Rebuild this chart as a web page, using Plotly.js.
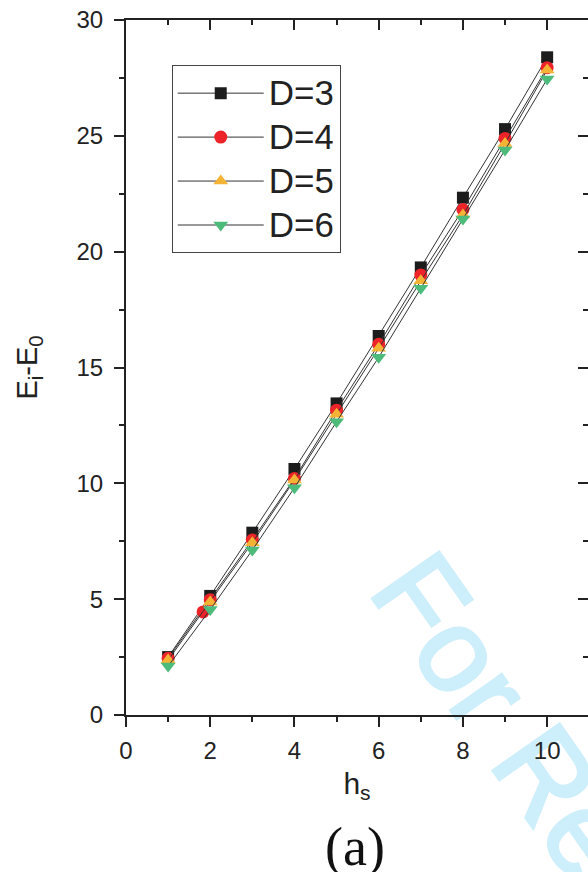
<!DOCTYPE html>
<html>
<head>
<meta charset="utf-8">
<script src="https://cdn.plot.ly/plotly-3.0.1.min.js"></script>
<style>
html,body{margin:0;padding:0;background:#fff;}
#chart{width:588px;height:872px;}
</style>
</head>
<body>
<div id="chart"></div>
<script>
// ---- data ----
const hs = [1, 2, 3, 4, 5, 6, 7, 8, 9, 10];
const seriesNames = ['D=3', 'D=4', 'D=5', 'D=6'];
const yD3 = [2.50, 5.14, 7.87, 10.62, 13.45, 16.36, 19.32, 22.33, 25.29, 28.39];
const yD4 = [2.45, 4.98, 7.55, 10.21, 13.16, 16.00, 18.99, 21.82, 24.89, 27.94];
const yD5 = [2.37, 4.88, 7.44, 10.14, 12.98, 15.83, 18.74, 21.58, 24.67, 27.84];
const yD6 = [2.11, 4.55, 7.12, 9.81, 12.66, 15.44, 18.42, 21.41, 24.39, 27.45];
const extraD4x = [1.83];
const extraD4y = [4.45];
const xTickVals = [0, 2, 4, 6, 8, 10];
const yTickVals = [0, 5, 10, 15, 20, 25, 30];

const colors = ['#1c1c1c', '#ec2329', '#f5b335', '#4dbb7a'];
const symbols = ['square', 'circle', 'triangle-up', 'triangle-down'];
const sizes = [12, 13, 13, 13];
const ys = [yD3, yD4, yD5, yD6];

const traces = [];
ys.forEach((y, i) => {
  traces.push({
    x: hs, y: y, name: seriesNames[i], type: 'scatter', mode: 'lines+markers',
    line: {color: '#333333', width: 1},
    marker: {color: colors[i], symbol: symbols[i], size: sizes[i], line: {width: 0}},
    cliponaxis: false
  });
  if (i === 1) {
    traces.push({
      x: extraD4x, y: extraD4y, type: 'scatter', mode: 'markers', showlegend: false,
      marker: {color: colors[1], symbol: 'circle', size: 13, line: {width: 0}}
    });
  }
});
traces.push({x: [], y: [], xaxis: 'x2', yaxis: 'y2', type: 'scatter', showlegend: false, hoverinfo: 'skip'});

const axisColor = '#222222';
const tickFont = {family: 'Liberation Sans, Arial, sans-serif', size: 24, color: '#222222'};

const layout = {
  width: 588, height: 872,
  margin: {l: 126, r: 0, t: 20, b: 157, pad: 0},
  paper_bgcolor: '#ffffff', plot_bgcolor: '#ffffff',
  showlegend: true,
  legend: {
    x: 0.099, y: 0.935, xanchor: 'left', yanchor: 'top',
    bgcolor: '#ffffff', bordercolor: '#444444', borderwidth: 1,
    font: {family: 'Liberation Sans, Arial, sans-serif', size: 31.5, color: '#222222'},
    itemwidth: 86, tracegroupgap: 0
  },
  xaxis: {
    range: [0, 10.97], tickvals: xTickVals, ticks: 'outside', ticklen: 10, tickwidth: 2,
    tickcolor: axisColor, showline: true, linecolor: axisColor, linewidth: 2,
    showgrid: false, zeroline: false, tickfont: tickFont, ticklabelstandoff: 3,
    minor: {dtick: 1, tick0: 0, ticks: 'outside', ticklen: 5, tickwidth: 2, tickcolor: axisColor, showgrid: false},
    title: {text: 'h<sub>s</sub>', font: {family: 'Liberation Sans, Arial, sans-serif', size: 30, color: '#222222'}, standoff: 10}
  },
  yaxis: {
    range: [0, 30], tickvals: yTickVals, ticks: 'outside', ticklen: 10, tickwidth: 2,
    tickcolor: axisColor, showline: true, linecolor: axisColor, linewidth: 2,
    showgrid: false, zeroline: false, tickfont: tickFont, ticklabelstandoff: 6,
    minor: {dtick: 2.5, tick0: 0, ticks: 'outside', ticklen: 5, tickwidth: 2, tickcolor: axisColor, showgrid: false},
    title: {text: 'E<sub>i</sub>-E<sub>0</sub>', font: {family: 'Liberation Sans, Arial, sans-serif', size: 29, color: '#222222'}, standoff: 30}
  },
  xaxis2: {
    overlaying: 'x', side: 'top', anchor: 'y2', range: [0, 10.97], tickvals: xTickVals,
    ticks: 'inside', ticklen: 10, tickwidth: 2, tickcolor: axisColor, showticklabels: false,
    showline: true, linecolor: axisColor, linewidth: 2, showgrid: false, zeroline: false,
    minor: {dtick: 1, tick0: 0, ticks: 'inside', ticklen: 5, tickwidth: 2, tickcolor: axisColor, showgrid: false}
  },
  yaxis2: {
    overlaying: 'y', side: 'right', anchor: 'x2', range: [0, 30], tickvals: yTickVals,
    ticks: 'inside', ticklen: 10, tickwidth: 2, tickcolor: axisColor, showticklabels: false,
    showline: true, linecolor: axisColor, linewidth: 2, showgrid: false, zeroline: false,
    minor: {dtick: 2.5, tick0: 0, ticks: 'inside', ticklen: 5, tickwidth: 2, tickcolor: axisColor, showgrid: false}
  },
  annotations: [
    {text: '(a)', xref: 'paper', yref: 'paper', x: 0.496, y: -0.19, xanchor: 'center', yanchor: 'middle',
     showarrow: false, font: {family: 'Liberation Serif, Times New Roman, serif', size: 54, color: '#111111'}},
    {text: 'For Review', xref: 'paper', yref: 'paper', x: 0.965, y: -0.14, xanchor: 'center', yanchor: 'middle',
     showarrow: false, textangle: 55, font: {family: 'Liberation Sans, Arial, sans-serif', size: 118, color: '#cdeefb'}}
  ]
};

Plotly.newPlot('chart', traces, layout, {displayModeBar: false, staticPlot: true}).then(gd => {
  // put the watermark beneath the axes, as in the reference, and thicken its strokes a bit
  const anns = gd.querySelectorAll('.annotation');
  const below = gd.querySelector('.main-svg .layer-below');
  anns.forEach(a => {
    if (a.textContent === 'For Review') {
      const t = a.querySelector('text');
      if (t) { t.style.stroke = '#cdeefb'; t.style.strokeWidth = '3px'; }
      if (below) below.appendChild(a);
    }
  });
  // larger legend lettering on the compact row spacing of the reference
  gd.querySelectorAll('.legend .legendtext').forEach(t => { t.style.fontSize = '35px'; });
  const bg = gd.querySelector('.legend rect.bg');
  if (bg) {
    const w = parseFloat(bg.getAttribute('width'));
    if (!isNaN(w)) bg.setAttribute('width', w + 7);
  }
});
</script>
</body>
</html>
